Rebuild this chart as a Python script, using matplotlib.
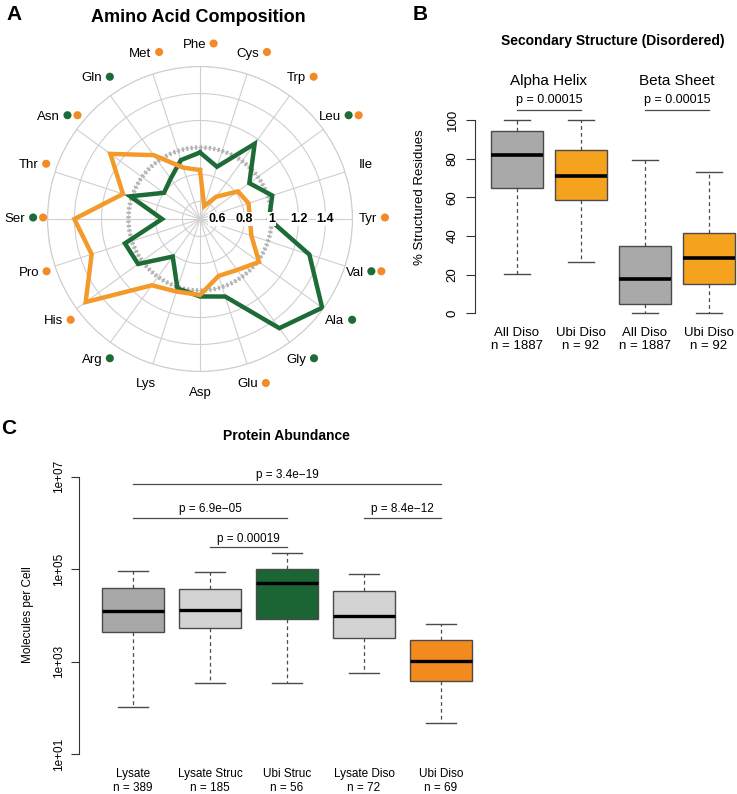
import numpy as np
import matplotlib
matplotlib.use('Agg')
import matplotlib.pyplot as plt

plt.rcParams['font.family'] = ['Liberation Sans', 'DejaVu Sans']

# ---------------- Panel A data ----------------
amino_acids = ['Phe', 'Cys', 'Trp', 'Leu', 'Ile', 'Tyr', 'Val', 'Ala', 'Gly', 'Glu',
               'Asp', 'Lys', 'Arg', 'His', 'Pro', 'Ser', 'Thr', 'Asn', 'Gln', 'Met']
green_ratio = [0.963, 0.877, 1.159, 0.922, 1.033, 0.981, 1.322, 1.589, 1.470, 1.074,
               1.044, 1.011, 0.814, 1.037, 1.055, 0.751, 1.014, 0.800, 0.840, 0.929]
orange_ratio = [0.833, 0.570, 0.674, 0.818, 0.848, 0.840, 0.870, 1.011, 0.937, 0.914,
                1.033, 1.035, 1.077, 1.517, 1.314, 1.401, 1.070, 1.291, 1.055, 0.870]
green_sig = ['Leu', 'Val', 'Ala', 'Gly', 'Arg', 'Ser', 'Asn', 'Gln']
orange_sig = ['Phe', 'Cys', 'Trp', 'Leu', 'Tyr', 'Val', 'Glu', 'His', 'Pro', 'Ser',
              'Thr', 'Asn', 'Met']
radial_ticks = [0.6, 0.8, 1.0, 1.2, 1.4]
radial_tick_labels = ['0.6', '0.8', '1', '1.2', '1.4']

# ---------------- Panel B data ----------------
ss_groups = ['Alpha Helix', 'Beta Sheet']
ss_pvalues = ['p = 0.00015', 'p = 0.00015']
ss_labels = ['All Diso\nn = 1887', 'Ubi Diso\nn = 92', 'All Diso\nn = 1887', 'Ubi Diso\nn = 92']
ss_whislo = [20.2, 26.4, 0.0, 0.0]
ss_q1 = [64.7, 58.5, 4.8, 15.0]
ss_med = [81.9, 71.2, 17.7, 28.4]
ss_q3 = [94.5, 84.5, 34.8, 41.4]
ss_whishi = [100.0, 100.0, 79.3, 73.3]
ss_ticks = [0, 20, 40, 60, 80, 100]

# ---------------- Panel C data ----------------
ab_labels = ['Lysate\nn = 389', 'Lysate Struc\nn = 185', 'Ubi Struc\nn = 56',
             'Lysate Diso\nn = 72', 'Ubi Diso\nn = 69']
ab_whislo = [103, 345, 345, 569, 48]
ab_q1 = [4300, 5260, 8400, 3200, 375]
ab_med = [12300, 13400, 49500, 9900, 1010]
ab_q3 = [38600, 37400, 101000, 34400, 2940]
ab_whishi = [90200, 85700, 221000, 77600, 6410]
ab_comparisons = [(1, 5, 'p = 3.4e\u221219'), (1, 3, 'p = 6.9e\u221205'),
                  (2, 3, 'p = 0.00019'), (4, 5, 'p = 8.4e\u221212')]
ab_comp_level = [7.0e6, 1.29e6, 2.98e5, 1.29e6]
ab_ticks = [1e1, 1e3, 1e5, 1e7]
ab_tick_labels = ['1e+01', '1e+03', '1e+05', '1e+07']

GREEN = '#1d6b37'
ORANGE = '#f49a2a'
DOT_ORANGE = '#f28a26'
GRID = '#cfcfcf'
EDGE = '#4a4a4a'

W, H = 737, 794
fig = plt.figure(figsize=(W / 100, H / 100), dpi=100)

# ================= Panel A: radar =================
cx, cy, rpx = 200.0, 219.0, 152.5
rmin, rmax = 0.47, 1.60
axA = fig.add_axes([(cx - rpx) / W, (H - cy - rpx) / H, 2 * rpx / W, 2 * rpx / H],
                   projection='polar')
axA.set_theta_zero_location('N')
axA.set_theta_direction(-1)
axA.set_ylim(rmin, rmax)
n = len(amino_acids)
theta = np.arange(n) * 2 * np.pi / n
axA.set_xticks(theta)
axA.set_xticklabels([''] * n)
axA.set_yticks(radial_ticks + [1.6])
axA.set_yticklabels([])
axA.grid(True, color=GRID, linewidth=0.8)
axA.spines['polar'].set_color(GRID)
axA.spines['polar'].set_linewidth(0.8)
axA.tick_params(length=0)

tc = np.linspace(0, 2 * np.pi, 400)
axA.plot(tc, np.ones_like(tc), color='#b0b0b0', lw=3.2, linestyle=(0, (0.45, 0.55)), zorder=2)
th_closed = np.append(theta, theta[0])
axA.plot(th_closed, np.append(green_ratio, green_ratio[0]), color=GREEN, lw=3.2,
         solid_joinstyle='miter', zorder=3)
axA.plot(th_closed, np.append(orange_ratio, orange_ratio[0]), color=ORANGE, lw=3.2,
         solid_joinstyle='miter', zorder=4)
for rv, lab in zip(radial_ticks, radial_tick_labels):
    axA.text(np.pi / 2, rv, lab, ha='center', va='center', fontsize=9, fontweight='bold',
             zorder=6, bbox=dict(facecolor='white', edgecolor='none', pad=0.6))

# ================= Panel B =================
ppu_b = 1.933
y0_b = 313.3
xl_b, xr_b = 0.34, 4.66
x_left_px = 517 - (1 - xl_b) * 64
ylo_b, yhi_b = -4.8, 124.8
bottom_px = y0_b - ylo_b * ppu_b
top_px = y0_b - yhi_b * ppu_b
axB = fig.add_axes([x_left_px / W, (H - bottom_px) / H, (xr_b - xl_b) * 64 / W,
                    (bottom_px - top_px) / H])
statsB = [dict(med=m, q1=a, q3=b, whislo=lo, whishi=hi, fliers=[])
          for lo, a, m, b, hi in zip(ss_whislo, ss_q1, ss_med, ss_q3, ss_whishi)]
colsB = ['#a9a9a9', '#f5a21e', '#a9a9a9', '#f5a21e']
bpB = axB.bxp(statsB, positions=[1, 2, 3, 4], widths=0.8, patch_artist=True,
              showfliers=False, capwidths=0.4,
              boxprops=dict(edgecolor=EDGE, linewidth=1.0),
              medianprops=dict(color='black', linewidth=2.6),
              whiskerprops=dict(color=EDGE, linestyle=(0, (3, 2.5)), linewidth=0.9),
              capprops=dict(color=EDGE, linewidth=1.0))
for p, c in zip(bpB['boxes'], colsB):
    p.set_facecolor(c)
axB.set_xlim(xl_b, xr_b)
axB.set_ylim(ylo_b, yhi_b)
for s in ['top', 'right', 'bottom']:
    axB.spines[s].set_visible(False)
axB.spines['left'].set_bounds(0, 100)
axB.spines['left'].set_color('#333333')
axB.set_yticks(ss_ticks)
axB.set_yticklabels([str(t) for t in ss_ticks], rotation=90, va='center', fontsize=9.5)
axB.tick_params(axis='y', length=6.5, width=0.8, pad=5, color='#333333')
axB.set_xticks([1, 2, 3, 4])
axB.set_xticklabels(ss_labels, fontsize=9.5, linespacing=1.15)
axB.tick_params(axis='x', length=0, pad=3)
axB.patch.set_alpha(0)
for gi, (g, pv) in enumerate(zip(ss_groups, ss_pvalues)):
    xc = 1.5 + 2 * gi
    axB.text(xc, 120.3, g, ha='center', va='center', fontsize=11, clip_on=False)
    axB.text(xc, 110.3, pv, ha='center', va='center', fontsize=9, clip_on=False)
    axB.plot([xc - 0.5, xc + 0.5], [105.2, 105.2], color=EDGE, lw=0.9, clip_on=False)

# ================= Panel C =================
dec_px = 46.2
y_1e1 = 754.0
lo_c, hi_c = 0.76, 7.24
cb_px = y_1e1 + (lo_c - 1) * -dec_px
ct_px = y_1e1 - (hi_c - 1) * dec_px
xl_c, xr_c = 0.3, 5.7
cl_px = 133 - (1 - xl_c) * 77
axC = fig.add_axes([cl_px / W, (H - cb_px) / H, (xr_c - xl_c) * 77 / W, (cb_px - ct_px) / H])
statsC = [dict(med=m, q1=a, q3=b, whislo=lo, whishi=hi, fliers=[])
          for lo, a, m, b, hi in zip(ab_whislo, ab_q1, ab_med, ab_q3, ab_whishi)]
colsC = ['#a8a8a8', '#d3d3d3', '#1b6535', '#d3d3d3', '#f28a1e']
bpC = axC.bxp(statsC, positions=[1, 2, 3, 4, 5], widths=0.8, patch_artist=True,
              showfliers=False, capwidths=0.4,
              boxprops=dict(edgecolor=EDGE, linewidth=1.0),
              medianprops=dict(color='black', linewidth=2.4),
              whiskerprops=dict(color=EDGE, linestyle=(0, (3, 2.5)), linewidth=0.9),
              capprops=dict(color=EDGE, linewidth=1.0))
for p, c in zip(bpC['boxes'], colsC):
    p.set_facecolor(c)
axC.set_yscale('log')
axC.set_xlim(xl_c, xr_c)
axC.set_ylim(10 ** lo_c, 10 ** hi_c)
for s in ['top', 'right', 'bottom']:
    axC.spines[s].set_visible(False)
axC.spines['left'].set_bounds(1e1, 1e7)
axC.spines['left'].set_color('#333333')
axC.set_yticks(ab_ticks)
axC.set_yticklabels(ab_tick_labels, rotation=90, va='center', fontsize=8.5)
axC.yaxis.set_minor_locator(matplotlib.ticker.NullLocator())
axC.tick_params(axis='y', length=6, width=0.8, pad=4, color='#333333')
axC.set_xticks([1, 2, 3, 4, 5])
axC.set_xticklabels(ab_labels, fontsize=8.5, linespacing=1.25)
axC.tick_params(axis='x', length=0, pad=2)
axC.patch.set_alpha(0)
for (a, b, txt), lev in zip(ab_comparisons, ab_comp_level):
    axC.plot([a, b], [lev, lev], color=EDGE, lw=0.9, clip_on=False)
    axC.text((a + b) / 2, lev * 10 ** (0.19), txt, ha='center', va='center', fontsize=8.5,
             clip_on=False)

# ================= Overlay (pixel coords) =================
ov = fig.add_axes([0, 0, 1, 1], zorder=10)
ov.set_xlim(0, W)
ov.set_ylim(H, 0)
ov.axis('off')
ov.patch.set_alpha(0)

ov.text(14, 15, 'A', fontsize=15, fontweight='bold', ha='center', va='center')
ov.text(420, 14, 'B', fontsize=15, fontweight='bold', ha='center', va='center')
ov.text(9, 428, 'C', fontsize=15, fontweight='bold', ha='center', va='center')
ov.text(198, 18, 'Amino Acid Composition', fontsize=13, fontweight='bold', ha='center', va='center')
ov.text(613, 41, 'Secondary Structure (Disordered)', fontsize=10, fontweight='bold',
        ha='center', va='center')
ov.text(286, 436, 'Protein Abundance', fontsize=10, fontweight='bold', ha='center', va='center')
ov.text(420, 197, '% Structured Residues', fontsize=9.5, rotation=90, ha='center', va='center')
ov.text(28, 615, 'Molecules per Cell', fontsize=8.5, rotation=90, ha='center', va='center')

fig.canvas.draw()
renderer = fig.canvas.get_renderer()
R_lab = 174.0
for i, aa in enumerate(amino_acids):
    ang = np.pi / 2 - theta[i]
    lx = cx + R_lab * np.cos(ang)
    ly = cy - R_lab * np.sin(ang)
    t = ov.text(0, ly, aa, fontsize=9.5, ha='left', va='center')
    w = t.get_window_extent(renderer).width
    dots = []
    if aa in green_sig:
        dots.append(GREEN)
    if aa in orange_sig:
        dots.append(DOT_ORANGE)
    gw = w + (7.6 + 4 + (len(dots) - 1) * 10 if dots else 0)
    left = lx - gw / 2
    t.set_position((left, ly))
    for k, c in enumerate(dots):
        ov.scatter([left + w + 7.6 + k * 10], [ly - 1.5], s=34, color=c, edgecolors='none')

fig.savefig('out.png', dpi=100)
